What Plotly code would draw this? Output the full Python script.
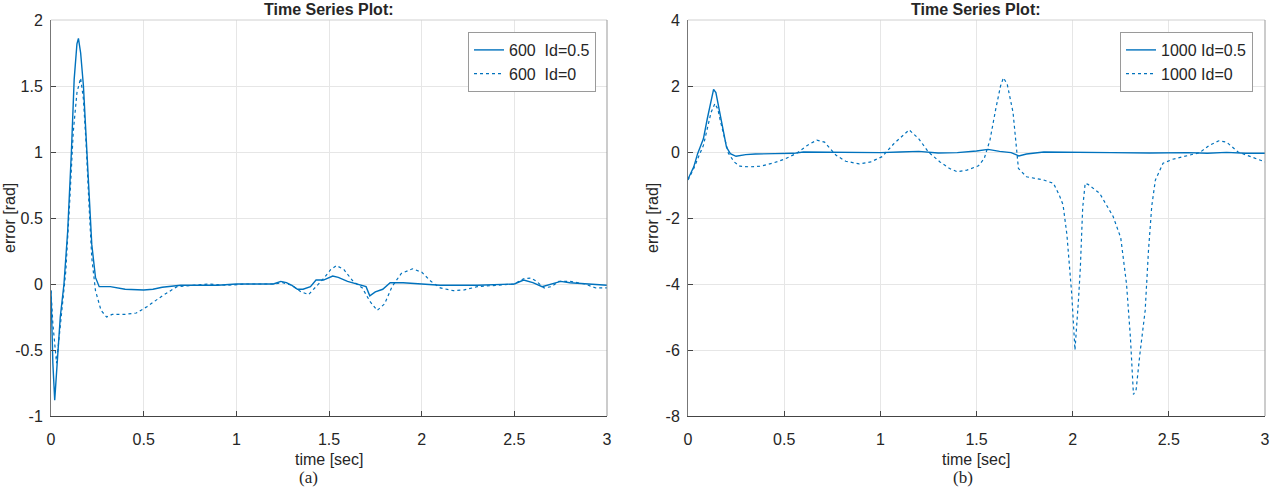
import plotly.graph_objects as go

# ---------------- data ----------------
# (a) 600, Id=0.5 (solid)
a_s_t = [0, 0.01, 0.02, 0.035, 0.05, 0.07, 0.09, 0.11, 0.125, 0.14, 0.148, 0.16, 0.175, 0.19, 0.205,
         0.22, 0.24, 0.26, 0.28, 0.32, 0.4, 0.5, 0.55, 0.6, 0.7, 0.8, 0.9, 1.0, 1.1, 1.2, 1.24, 1.27,
         1.3, 1.33, 1.36, 1.4, 1.43, 1.47, 1.52, 1.55, 1.6, 1.65, 1.7, 1.72, 1.75, 1.79, 1.83, 1.9,
         2.0, 2.1, 2.3, 2.5, 2.55, 2.6, 2.65, 2.7, 2.75, 2.8, 2.9, 2.95, 3.0]
a_s_v = [-0.05, -0.6, -0.88, -0.6, -0.25, 0.0, 0.4, 1.0, 1.55, 1.82, 1.86, 1.75, 1.5, 1.1, 0.65,
         0.3, 0.05, -0.02, -0.02, -0.02, -0.04, -0.045, -0.04, -0.025, -0.01, -0.01, -0.01, 0.0, 0.0,
         0.0, 0.02, 0.01, -0.01, -0.04, -0.04, -0.02, 0.03, 0.03, 0.06, 0.05, 0.02, 0.0, -0.02, -0.09,
         -0.06, -0.04, 0.01, 0.01, 0.0, -0.01, -0.01, 0.0, 0.03, 0.01, -0.02, 0.0, 0.02, 0.01, 0.0,
         -0.01, -0.01]
# (a) 600, Id=0 (dotted)
a_d_t = [0, 0.01, 0.03, 0.045, 0.06, 0.08, 0.1, 0.12, 0.14, 0.16, 0.175, 0.19, 0.205, 0.22, 0.24,
         0.27, 0.3, 0.33, 0.4, 0.46, 0.52, 0.6, 0.68, 0.75, 0.85, 0.95, 1.05, 1.2, 1.25, 1.3, 1.35,
         1.39, 1.43, 1.47, 1.51, 1.54, 1.58, 1.63, 1.68, 1.72, 1.76, 1.8, 1.84, 1.89, 1.95, 2.0, 2.05,
         2.1, 2.17, 2.23, 2.3, 2.4, 2.5, 2.55, 2.59, 2.62, 2.66, 2.7, 2.74, 2.8, 2.88, 2.94, 3.0]
a_d_v = [-0.05, -0.3, -0.6, -0.4, -0.2, 0.1, 0.6, 1.15, 1.45, 1.56, 1.4, 1.05, 0.6, 0.2, -0.05,
         -0.2, -0.25, -0.23, -0.23, -0.22, -0.17, -0.09, -0.02, -0.01, 0.0, -0.01, 0.0, 0.0, 0.01,
         -0.01, -0.06, -0.08, -0.02, 0.04, 0.11, 0.14, 0.11, 0.02, -0.03, -0.13, -0.2, -0.15, -0.02,
         0.08, 0.115, 0.09, 0.02, -0.03, -0.05, -0.045, -0.02, -0.01, 0.0, 0.04, 0.045, 0.02, -0.03,
         -0.02, 0.02, 0.02, 0.0, -0.03, -0.03]

# (b) 1000, Id=0.5 (solid)
b_s_t = [0, 0.03, 0.05, 0.08, 0.1, 0.12, 0.133, 0.145, 0.16, 0.18, 0.2, 0.22, 0.25, 0.3, 0.35,
         0.45, 0.55, 0.6, 0.8, 1.0, 1.1, 1.2, 1.3, 1.4, 1.5, 1.56, 1.62, 1.68, 1.72, 1.76, 1.85,
         2.0, 2.2, 2.4, 2.6, 2.7, 2.8, 2.9, 3.0]
b_s_v = [-0.82, -0.45, -0.05, 0.4, 1.0, 1.6, 1.9, 1.8, 1.35, 0.7, 0.15, -0.05, -0.13, -0.08,
         -0.06, -0.05, -0.04, 0.0, -0.02, -0.02, 0.0, 0.02, -0.03, -0.02, 0.03, 0.08, 0.02, -0.02,
         -0.12, -0.06, 0.0, 0.0, -0.02, -0.03, -0.02, -0.04, -0.01, -0.04, -0.04]
# (b) 1000, Id=0 (dotted)
b_d_t = [0, 0.03, 0.055, 0.08, 0.1, 0.12, 0.14, 0.155, 0.17, 0.19, 0.21, 0.24, 0.27, 0.32, 0.38,
         0.45, 0.5, 0.565, 0.62, 0.67, 0.71, 0.77, 0.82, 0.89, 0.95, 1.01, 1.07, 1.15, 1.2, 1.25,
         1.31, 1.36, 1.4, 1.45, 1.51, 1.54, 1.57, 1.6, 1.625, 1.64, 1.66, 1.69, 1.705, 1.718, 1.76,
         1.8, 1.85, 1.9, 1.93, 1.95, 1.97, 1.995, 2.012, 2.03, 2.04, 2.052, 2.065, 2.08, 2.14, 2.21,
         2.25, 2.28, 2.3, 2.316, 2.33, 2.35, 2.377, 2.394, 2.411, 2.43, 2.47, 2.52, 2.58, 2.66,
         2.71, 2.76, 2.8, 2.86, 2.93, 3.0]
b_d_v = [-0.85, -0.5, -0.14, 0.2, 0.7, 1.2, 1.47, 1.3, 0.9, 0.4, -0.04, -0.3, -0.43, -0.45, -0.43,
         -0.32, -0.22, -0.04, 0.2, 0.36, 0.3, -0.1, -0.28, -0.36, -0.3, -0.14, 0.25, 0.67, 0.4, 0.0,
         -0.3, -0.5, -0.6, -0.55, -0.42, -0.2, 0.36, 1.3, 2.0, 2.25, 2.05, 1.2, 0.2, -0.5, -0.75,
         -0.8, -0.85, -0.95, -1.3, -1.6, -2.5, -4.3, -6.0, -4.5, -3.5, -1.7, -0.95, -0.98, -1.25,
         -1.95, -2.6, -4.0, -5.6, -7.35, -7.2, -6.1, -4.8, -3.0, -1.65, -0.85, -0.34, -0.22, -0.14,
         -0.02, 0.2, 0.34, 0.3, 0.0, -0.15, -0.3]

legend_a = ["600\u00a0\u00a0Id=0.5", "600\u00a0\u00a0Id=0"]
legend_b = ["1000 Id=0.5", "1000 Id=0"]
x_ticks = [0, 0.5, 1, 1.5, 2, 2.5, 3]
x_tick_text = ["0", "0.5", "1", "1.5", "2", "2.5", "3"]
ya_ticks = [-1, -0.5, 0, 0.5, 1, 1.5, 2]
ya_tick_text = ["-1", "-0.5", "0", "0.5", "1", "1.5", "2"]
yb_ticks = [-8, -6, -4, -2, 0, 2, 4]
yb_tick_text = ["-8", "-6", "-4", "-2", "0", "2", "4"]

# ---------------- figure ----------------
W, H = 1276, 489
BLUE = "#0072BD"
FONT = "Liberation Sans, Arial, Helvetica, sans-serif"

def px(x):
    return x / W

def py(y):
    return 1 - y / H

fig = go.Figure()
fig.add_trace(go.Scatter(x=a_s_t, y=a_s_v, mode="lines", name=legend_a[0],
                         line=dict(color=BLUE, width=1.4), xaxis="x", yaxis="y", legend="legend"))
fig.add_trace(go.Scatter(x=a_d_t, y=a_d_v, mode="lines", name=legend_a[1],
                         line=dict(color=BLUE, width=1.2, dash="dot"), xaxis="x", yaxis="y",
                         legend="legend"))
fig.add_trace(go.Scatter(x=b_s_t, y=b_s_v, mode="lines", name=legend_b[0],
                         line=dict(color=BLUE, width=1.4), xaxis="x2", yaxis="y2", legend="legend2"))
fig.add_trace(go.Scatter(x=b_d_t, y=b_d_v, mode="lines", name=legend_b[1],
                         line=dict(color=BLUE, width=1.2, dash="dot"), xaxis="x2", yaxis="y2",
                         legend="legend2"))

ydom = [py(416), py(20)]
xdom_a = [px(51), px(607)]
xdom_b = [px(688), px(1265)]

tickfont = dict(family=FONT, size=16, color="#262626")
common_x = dict(range=[0, 3], tickvals=x_ticks, ticktext=x_tick_text, showgrid=True,
                gridcolor="#e6e6e6", gridwidth=1, zeroline=False, showline=True,
                linecolor="#444444", linewidth=1, ticks="inside", ticklen=5, tickcolor="#444444",
                tickfont=tickfont, ticklabelstandoff=9, fixedrange=True, automargin=False)
common_y = dict(showgrid=True, gridcolor="#e6e6e6", gridwidth=1, zeroline=False, showline=True,
                linecolor="#777777", linewidth=1, ticks="inside", ticklen=5, tickcolor="#444444",
                tickfont=tickfont, ticklabelstandoff=4, fixedrange=True, automargin=False)

fig.update_layout(
    width=W, height=H, margin=dict(l=0, r=0, t=0, b=0, autoexpand=False),
    paper_bgcolor="white", plot_bgcolor="white",
    xaxis=dict(domain=xdom_a, anchor="y", **common_x),
    yaxis=dict(domain=ydom, anchor="x", range=[-1, 2], tickvals=ya_ticks, ticktext=ya_tick_text,
               **common_y),
    xaxis2=dict(domain=xdom_b, anchor="y2", **common_x),
    yaxis2=dict(domain=ydom, anchor="x2", range=[-8, 4], tickvals=yb_ticks, ticktext=yb_tick_text,
                **common_y),
    legend=dict(x=px(596), y=py(32), xanchor="right", yanchor="top", bgcolor="white",
                bordercolor="#9a9a9a", borderwidth=1,
                font=dict(family=FONT, size=16, color="#262626"), tracegroupgap=0),
    legend2=dict(x=px(1253), y=py(32), xanchor="right", yanchor="top", bgcolor="white",
                 bordercolor="#9a9a9a", borderwidth=1,
                 font=dict(family=FONT, size=16, color="#262626"), tracegroupgap=0),
    showlegend=True,
)

# top / right box edges (lighter, as in MATLAB rendering)
for xr, yr in (("x domain", "y domain"), ("x2 domain", "y2 domain")):
    fig.add_shape(type="line", xref=xr, yref=yr, x0=0, x1=1, y0=1, y1=1,
                  line=dict(color="#d0d0d0", width=1))
    fig.add_shape(type="line", xref=xr, yref=yr, x0=1, x1=1, y0=0, y1=1,
                  line=dict(color="#999999", width=1))

annots = [
    dict(text="<b>Time Series Plot:</b>", x=px(329), y=py(10), size=16, family=FONT),
    dict(text="<b>Time Series Plot:</b>", x=px(976), y=py(10), size=16, family=FONT),
    dict(text="time [sec]", x=px(329), y=py(459), size=16, family=FONT),
    dict(text="time [sec]", x=px(976), y=py(459), size=16, family=FONT),
    dict(text="(a)", x=px(308), y=py(477), size=17, family="Liberation Serif, Times New Roman, serif"),
    dict(text="(b)", x=px(963), y=py(477), size=17, family="Liberation Serif, Times New Roman, serif"),
]
for a in annots:
    fig.add_annotation(text=a["text"], x=a["x"], y=a["y"], xref="paper", yref="paper",
                       xanchor="center", yanchor="middle", showarrow=False,
                       font=dict(family=a["family"], size=a["size"], color="#262626"))
for xc in (px(9), px(652)):
    fig.add_annotation(text="error [rad]", x=xc, y=py(218), xref="paper", yref="paper",
                       xanchor="center", yanchor="middle", showarrow=False, textangle=-90,
                       font=dict(family=FONT, size=16, color="#262626"))

fig.write_html("out.html")
